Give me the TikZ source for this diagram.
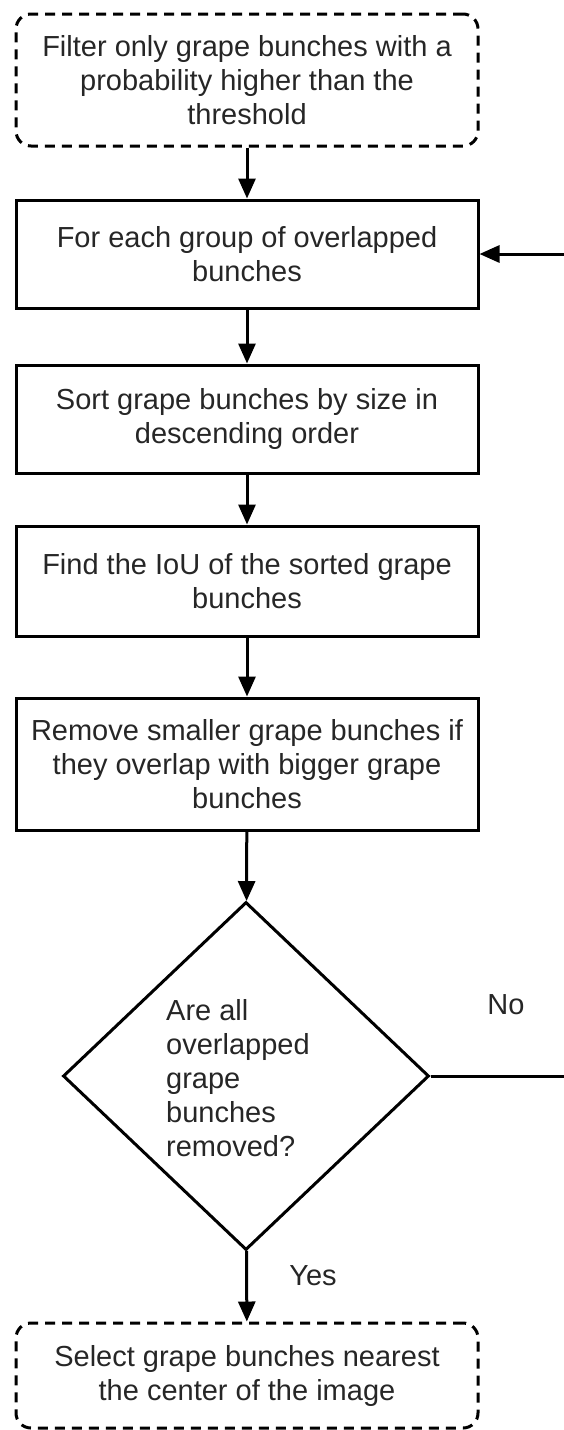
\documentclass[tikz,border=0pt]{standalone}
\usepackage{fontspec}
\setmainfont{Liberation Sans}
\usetikzlibrary{arrows.meta,shapes.geometric}

\begin{document}
\begin{tikzpicture}[x=1pt,y=-1pt,
  every node/.style={font=\fontsize{29}{34}\selectfont, text=black!85},
  line/.style={line width=3pt, draw=black},
  flow/.style={line, -{Triangle[length=20pt,width=17pt]}},
  procbox/.style={line, rectangle, minimum width=462pt, align=center, inner sep=0pt},
  termbox/.style={procbox, rounded corners=15pt, dash pattern=on 10pt off 7pt},
  decision/.style={line, diamond, minimum width=366pt, minimum height=348pt, inner sep=0pt}
]
\useasboundingbox (0,0) rectangle (564,1430);

% process steps
\node[termbox, minimum height=132pt] (filter) at (247,80)
  {Filter only grape bunches with a\\probability higher than the\\threshold};
\node[procbox, minimum height=108pt] (group) at (247,254)
  {For each group of overlapped\\bunches};
\node[procbox, minimum height=108pt] (sort) at (247,419)
  {Sort grape bunches by size in\\descending order};
\node[procbox, minimum height=110pt] (iou) at (247,581)
  {Find the IoU of the sorted grape\\bunches};
\node[procbox, minimum height=132pt] (remove) at (247,764)
  {Remove smaller grape bunches if\\they overlap with bigger grape\\bunches};
\node[decision] (check) at (246,1076) {};
\node[anchor=west, align=left, inner sep=0pt] (checktext) at (166,1078)
  {Are all\\overlapped\\grape\\bunches\\removed?};
\node[termbox, minimum height=105pt] (select) at (247,1375.5)
  {Select grape bunches nearest\\the center of the image};

% loop-back corner points (right of the page edge)
\coordinate (loopb) at (567,1076);
\coordinate (loopt) at (567,254);

% connectors
\draw[flow] (filter) -- (group);
\draw[flow] (group) -- (sort);
\draw[flow] (sort) -- (iou);
\draw[flow] (iou) -- (remove);
\draw[flow] (remove) -- (check);
\draw[flow] (check) -- (select);
\draw[flow] (check.east) -- (loopb) -- (loopt) -- (group.east);

% branch labels
\node (yes) at (313,1276) {Yes};
\node (no) at (506,1005) {No};
\end{tikzpicture}
\end{document}
